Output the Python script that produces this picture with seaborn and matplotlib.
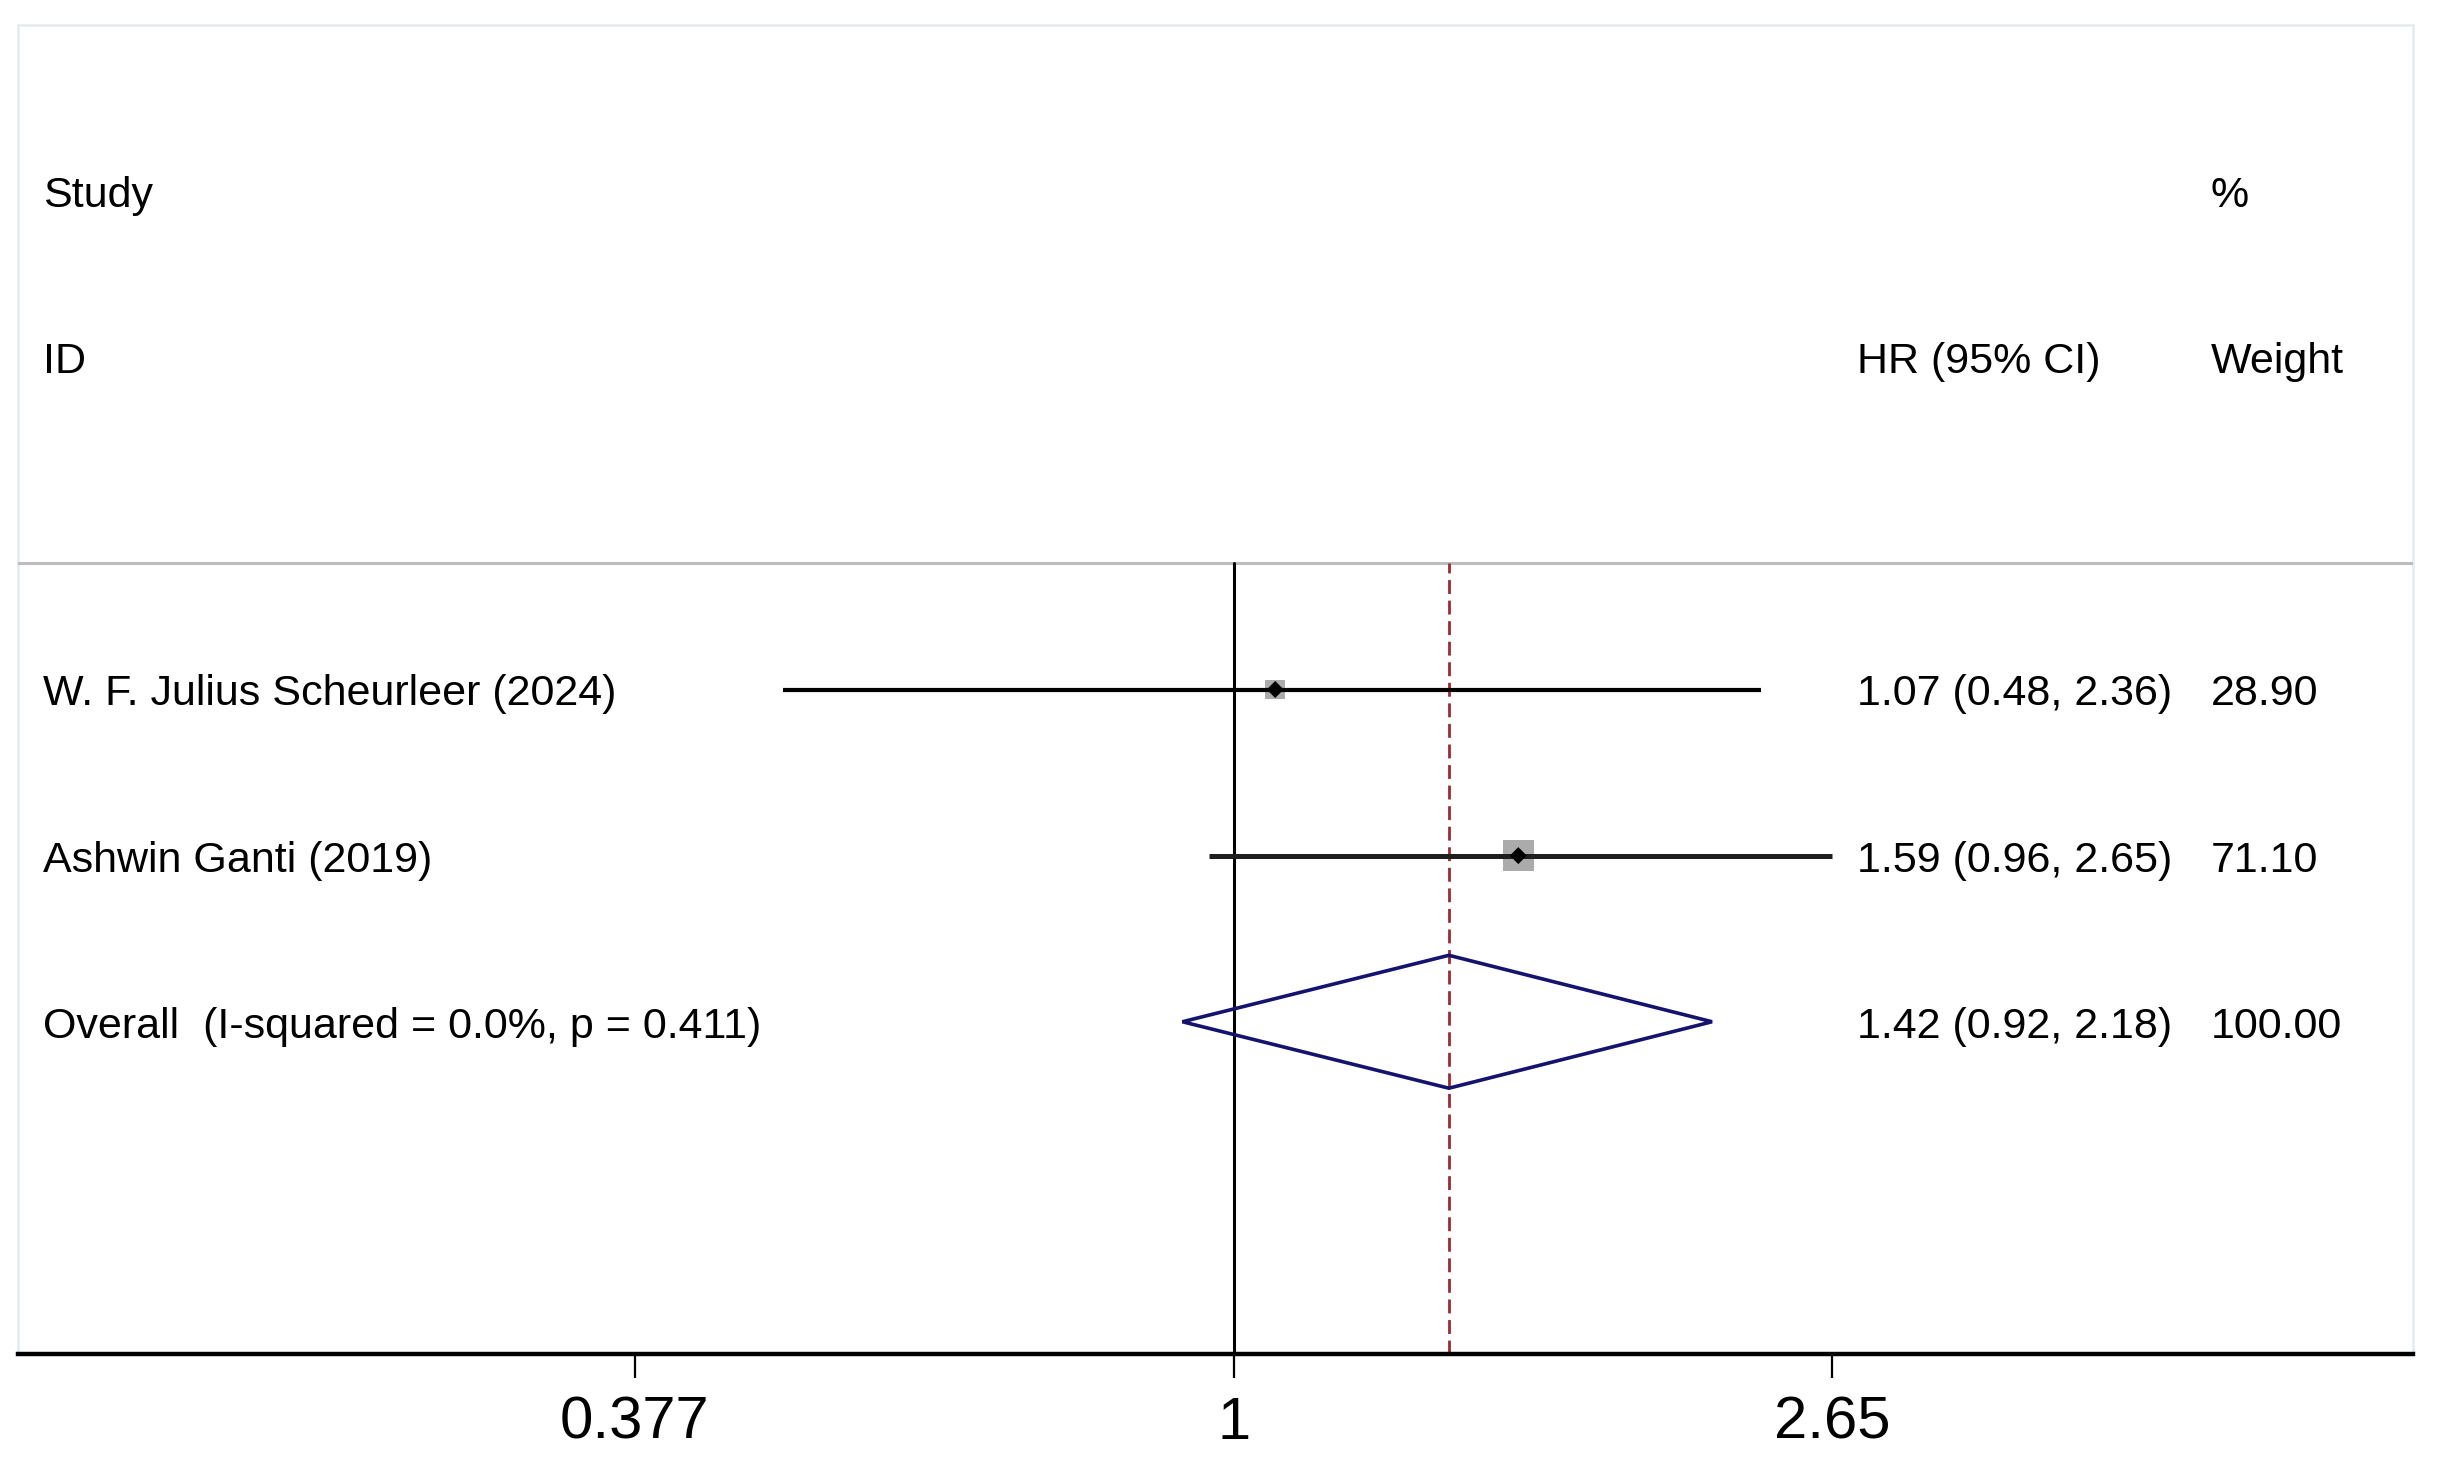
import numpy as np
import pandas as pd
import matplotlib
matplotlib.use("Agg")
import matplotlib.pyplot as plt
from matplotlib.patches import Rectangle, Polygon
import seaborn as sns

# ---------------- data ----------------
studies = ["W. F. Julius Scheurleer (2024)", "Ashwin Ganti (2019)"]
hr = [1.07, 1.59]
ci_low = [0.48, 0.96]
ci_high = [2.36, 2.65]
weights = [28.90, 71.10]

overall_label = "Overall  (I-squared = 0.0%, p = 0.411)"
overall_hr = 1.42
overall_low = 0.92
overall_high = 2.18
overall_weight = 100.00

tick_values = [0.377, 1, 2.65]
tick_labels = ["0.377", "1", "2.65"]

# ---------------- style ----------------
sns.set_theme(style="white")
plt.rcParams["font.family"] = ["Liberation Sans", "DejaVu Sans"]
plt.rcParams["text.color"] = "black"
plt.rcParams["xtick.color"] = "black"
plt.rcParams["xtick.labelcolor"] = "black"

W, H, DPI = 2438, 1484, 100
fig = plt.figure(figsize=(W / DPI, H / DPI), dpi=DPI)
fig.patch.set_facecolor("white")
ax = fig.add_axes([18 / W, (H - 1354) / H, (2413 - 18) / W, (1354 - 25) / H])
ax.set_facecolor("white")

ax.set_xscale("log")
ax.set_xlim(0.138, 6.83)
ax.set_ylim(0, 8)

row_y = [4, 3]
overall_y = 2
sep_y = 4.76

df = pd.DataFrame({"study": studies, "hr": hr, "lo": ci_low, "hi": ci_high,
                   "w": weights, "y": row_y})

# light frame
ax.add_patch(Rectangle((0, 0), 1, 1, transform=ax.transAxes, fill=False,
                       edgecolor="#e3ebef", lw=1.8, zorder=0, clip_on=False))
# separator under header
ax.axhline(sep_y, color="#bdbdbd", lw=2.2, zorder=1)

# null line and overall line
ax.plot([1, 1], [0, sep_y], color="black", lw=2.2, zorder=2)
ax.plot([overall_hr, overall_hr], [0, sep_y], color="#9a2a35", lw=2.0,
        ls=(0, (5, 2.4)), zorder=2)

# weight squares
sns.scatterplot(data=df, x="hr", y="y", marker="s", s=df["w"] * 7.0,
                color="#ababab", edgecolor="none", linewidth=0, ax=ax,
                zorder=3, legend=False)
# CI lines
ax.hlines(df["y"], df["lo"], df["hi"], colors=["#000000", "#1e1e1e"],
          lw=[3.0, 3.6], zorder=4)
# point estimates
sns.scatterplot(data=df, x="hr", y="y", marker="D", s=75, color="black",
                edgecolor="none", linewidth=0, ax=ax, zorder=5, legend=False)

# overall diamond
dh = 0.40
ax.add_patch(Polygon([(overall_low, overall_y), (overall_hr, overall_y + dh),
                      (overall_high, overall_y), (overall_hr, overall_y - dh)],
                     closed=True, fill=False, edgecolor="#14146e", lw=2.6,
                     joinstyle="miter", zorder=6))

# ---------------- text columns ----------------
fs = 31
base = 0.096
x_left = (43 - 18) / (2413 - 18)
x_hr = (1857 - 18) / (2413 - 18)
x_w = (2211 - 18) / (2413 - 18)
tr = ax.get_yaxis_transform()  # x in axes, y in data


def txt(x, y, s):
    ax.text(x, y - base, s, transform=tr, fontsize=fs, ha="left",
            va="baseline", color="black")


txt(x_left, 7, "Study")
txt(x_left, 6, "ID")
txt(x_w, 7, "%")
txt(x_hr, 6, "HR (95% CI)")
txt(x_w, 6, "Weight")

for s, h, lo, hi, w, y in zip(studies, hr, ci_low, ci_high, weights, row_y):
    txt(x_left, y, s)
    txt(x_hr, y, f"{h:.2f} ({lo:.2f}, {hi:.2f})")
    txt(x_w, y, f"{w:.2f}")

txt(x_left, overall_y, overall_label)
txt(x_hr, overall_y, f"{overall_hr:.2f} ({overall_low:.2f}, {overall_high:.2f})")
txt(x_w, overall_y, f"{overall_weight:.2f}")

# ---------------- axes ----------------
for side in ["top", "left", "right"]:
    ax.spines[side].set_visible(False)
ax.spines["bottom"].set_color("black")
ax.spines["bottom"].set_linewidth(3.2)
ax.spines["bottom"].set_zorder(7)

ax.set_yticks([])
ax.set_xticks(tick_values)
ax.set_xticklabels(tick_labels)
ax.xaxis.set_minor_locator(matplotlib.ticker.NullLocator())
ax.tick_params(axis="x", direction="out", length=17, width=1.6, color="black",
               labelcolor="black", pad=13, labelsize=43, bottom=True)
ax.set_xlabel("")
ax.set_ylabel("")
ax.grid(False)

fig.savefig("out.png", dpi=DPI, facecolor="white")
